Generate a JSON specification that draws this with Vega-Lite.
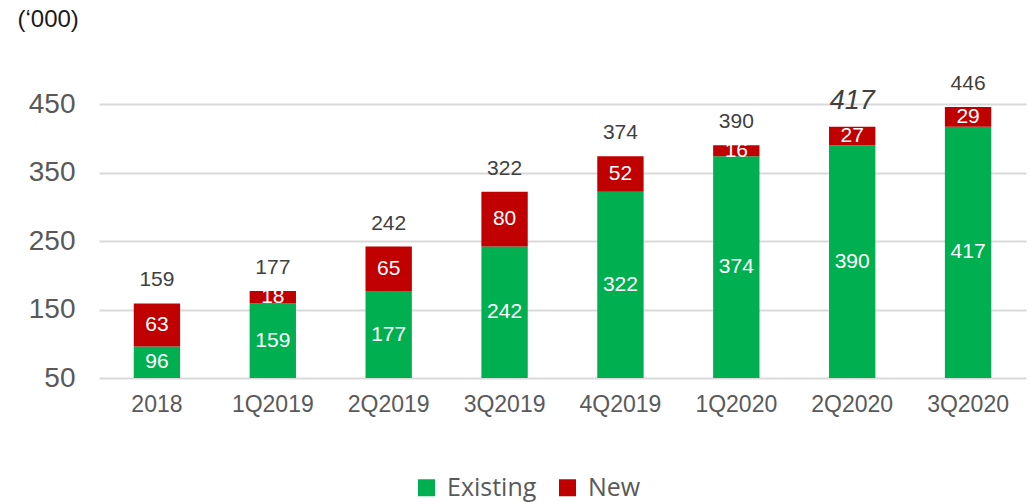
{
  "$schema": "https://vega.github.io/schema/vega-lite/v6.json",
  "autosize": "none",
  "width": 927,
  "height": 308,
  "padding": {"left": 99, "top": 70, "right": 5, "bottom": 124},
  "background": "white",
  "config": {"view": {"stroke": null}, "font": "Liberation Sans"},
  "data": {
    "values": [
      {"period": "2018", "type": "Existing", "value": 96},
      {"period": "2018", "type": "New", "value": 63},
      {"period": "1Q2019", "type": "Existing", "value": 159},
      {"period": "1Q2019", "type": "New", "value": 18},
      {"period": "2Q2019", "type": "Existing", "value": 177},
      {"period": "2Q2019", "type": "New", "value": 65},
      {"period": "3Q2019", "type": "Existing", "value": 242},
      {"period": "3Q2019", "type": "New", "value": 80},
      {"period": "4Q2019", "type": "Existing", "value": 322},
      {"period": "4Q2019", "type": "New", "value": 52},
      {"period": "1Q2020", "type": "Existing", "value": 374},
      {"period": "1Q2020", "type": "New", "value": 16},
      {"period": "2Q2020", "type": "Existing", "value": 390},
      {"period": "2Q2020", "type": "New", "value": 27},
      {"period": "3Q2020", "type": "Existing", "value": 417},
      {"period": "3Q2020", "type": "New", "value": 29}
    ]
  },
  "transform": [
    {"stack": "value", "groupby": ["period"], "sort": [{"field": "type", "order": "ascending"}], "as": ["v0", "v1"]},
    {"calculate": "(max(datum.v0, 50) + datum.v1) / 2", "as": "mid"},
    {"joinaggregate": [{"op": "sum", "field": "value", "as": "total"}], "groupby": ["period"]}
  ],
  "encoding": {
    "x": {
      "field": "period", "type": "nominal",
      "sort": ["2018", "1Q2019", "2Q2019", "3Q2019", "4Q2019", "1Q2020", "2Q2020", "3Q2020"],
      "scale": {"paddingInner": 0.6, "paddingOuter": 0.3},
      "axis": {"title": null, "labelAngle": 0, "labelFontSize": 23, "labelColor": "#595959", "labelPadding": 15, "domain": false, "ticks": false}
    }
  },
  "layer": [
    {
      "mark": {"type": "bar", "clip": true},
      "encoding": {
        "y": {
          "field": "v1", "type": "quantitative",
          "scale": {"domain": [50, 500], "nice": false, "zero": false},
          "axis": {
            "values": [50, 150, 250, 350, 450],
            "title": "(‘000)", "titleAngle": 0, "titleAlign": "left", "titleBaseline": "middle",
            "titleX": -82, "titleY": -51, "titleFontSize": 24, "titleFontWeight": "normal", "titleColor": "#1a1a1a",
            "labelFontSize": 28, "labelColor": "#595959", "labelPadding": 24,
            "domain": false, "ticks": false,
            "gridColor": "#d9d9d9", "gridWidth": 2
          }
        },
        "y2": {"field": "v0"},
        "color": {
          "field": "type", "type": "nominal",
          "scale": {"domain": ["Existing", "New"], "range": ["#00B050", "#C00000"]},
          "legend": {
            "title": null, "orient": "none", "direction": "horizontal",
            "legendX": 315, "legendY": 405,
            "symbolType": "square", "symbolSize": 289, "symbolStrokeWidth": 0,
            "labelFontSize": 25, "labelFont": "Open Sans", "labelColor": "#595959",
            "labelOffset": 8, "columnPadding": 18
          }
        }
      }
    },
    {
      "mark": {"type": "text", "color": "white", "fontSize": 21, "baseline": "middle"},
      "encoding": {
        "y": {"field": "mid", "type": "quantitative"},
        "text": {"field": "value", "type": "quantitative"}
      }
    },
    {
      "transform": [{"filter": "datum.type == 'New' && datum.period != '2Q2020'"}],
      "mark": {"type": "text", "color": "#404040", "fontSize": 21, "baseline": "middle", "dy": -23},
      "encoding": {
        "y": {"field": "total", "type": "quantitative"},
        "text": {"field": "total", "type": "quantitative"}
      }
    },
    {
      "transform": [{"filter": "datum.type == 'New' && datum.period == '2Q2020'"}],
      "mark": {"type": "text", "color": "#404040", "fontSize": 27, "fontStyle": "italic", "baseline": "middle", "dy": -26},
      "encoding": {
        "y": {"field": "total", "type": "quantitative"},
        "text": {"field": "total", "type": "quantitative"}
      }
    }
  ]
}
